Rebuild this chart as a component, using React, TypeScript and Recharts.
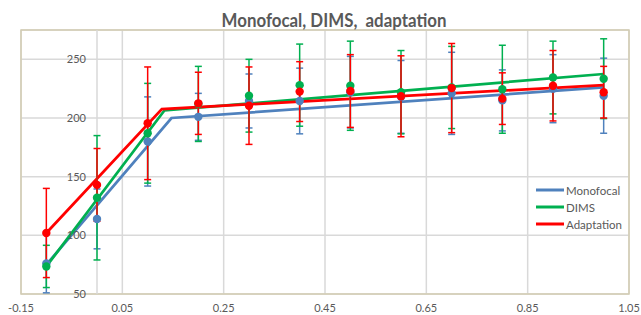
import React from 'react';
import {
  ComposedChart,
  Line,
  Scatter,
  ErrorBar,
  XAxis,
  YAxis,
  CartesianGrid,
  ReferenceLine,
  ReferenceDot,
  ReferenceArea,
  Legend,
} from 'recharts';

// ---- data ----
const xValues = [-0.1, 0, 0.1, 0.2, 0.3, 0.4, 0.5, 0.6, 0.7, 0.8, 0.9, 1.0];

const monoValues = [76, 114, 180, 201, 214.5, 214.5, 222, 218, 221, 215, 225, 219];
const monoErrors = [25, 25.5, 38, 20, 23, 28, 30.5, 31, 35, 26, 29, 32];

const dimsValues = [73.5, 132, 187, 212, 219, 228, 227.5, 222, 226, 224.5, 234.5, 233.5];
const dimsErrors = [18, 53, 42.5, 32, 31, 35, 38, 35.5, 35, 37.5, 31, 34];

const adaptValues = [102, 143, 195.5, 212.5, 210.5, 222.5, 223, 218.5, 225.5, 216.5, 227.5, 222];
const adaptErrors = [38, 31, 48, 26.5, 33, 25.5, 31, 34.5, 38, 22, 30, 22];

// piecewise fitted lines (start, breakpoint, end)
const monoLineX = [-0.1, 0.147, 1.0];
const monoLineY = [75, 200, 226];
const dimsLineX = [-0.1, 0.133, 1.0];
const dimsLineY = [73.5, 206.4, 237.5];
const adaptLineX = [-0.1, 0.128, 1.0];
const adaptLineY = [102, 207.6, 228];

const xTicks = [-0.15, 0.05, 0.25, 0.45, 0.65, 0.85, 1.05];
const yTicks = [50, 100, 150, 200, 250];

const seriesNames = ['Monofocal', 'DIMS', 'Adaptation'];
const title = 'Monofocal, DIMS,  adaptation';

// ---- styles ----
const BLUE = '#4F81BD';
const GREEN = '#00B050';
const RED = '#FF0000';
const TEXT = '#595959';
const GRID = '#D9D9D9';
const BORDER = '#D3CDB3';
const FONT = 'Lato, "Open Sans", sans-serif';

const toPoints = (ys: number[], errs: number[]) =>
  xValues.map((x, i) => ({ x, y: ys[i], err: errs[i] }));
const toLine = (xs: number[], ys: number[]) => xs.map((x, i) => ({ x, y: ys[i] }));

const monoPts = toPoints(monoValues, monoErrors);
const dimsPts = toPoints(dimsValues, dimsErrors);
const adaptPts = toPoints(adaptValues, adaptErrors);
const monoLine = toLine(monoLineX, monoLineY);
const dimsLine = toLine(dimsLineX, dimsLineY);
const adaptLine = toLine(adaptLineX, adaptLineY);

const dotShape = (color: string) => (props: any) => (
  <circle cx={props.cx} cy={props.cy} r={4.2} fill={color} />
);

const renderLegend = (props: any) => {
  const items = (props.payload || [])
    .filter((p: any) => p.type !== 'none' && seriesNames.indexOf(p.value) >= 0)
    .slice()
    .sort((a: any, b: any) => seriesNames.indexOf(a.value) - seriesNames.indexOf(b.value));
  return (
    <div style={{ fontFamily: FONT, fontSize: 11.5, color: TEXT }}>
      {items.map((p: any) => (
        <div key={p.value} style={{ display: 'flex', alignItems: 'center', height: 17 }}>
          <svg width={28} height={4} style={{ display: 'block' }}>
            <line x1={0} y1={2} x2={28} y2={2} stroke={p.color} strokeWidth={3} />
          </svg>
          <span style={{ marginLeft: 2, whiteSpace: 'nowrap' }}>{p.value}</span>
        </div>
      ))}
    </div>
  );
};

export default function App() {
  return (
    <div
      style={{
        position: 'absolute',
        left: 0,
        top: 0,
        width: 641,
        height: 315,
        background: '#ffffff',
        fontFamily: FONT,
      }}
    >
      <ComposedChart width={641} height={315} margin={{ top: 30, right: 12, left: 21, bottom: 0 }}>
        <CartesianGrid stroke={GRID} strokeWidth={1.5} />
        <ReferenceArea
          x1={-0.15}
          x2={1.05}
          y1={50}
          y2={275}
          fill="none"
          fillOpacity={0}
          stroke={BORDER}
          strokeWidth={1.5}
        />
        <ReferenceLine x={0} stroke={GRID} strokeWidth={1.5} />
        <XAxis
          type="number"
          dataKey="x"
          domain={[-0.15, 1.05]}
          ticks={xTicks}
          interval={0}
          allowDataOverflow
          tickFormatter={(v: number) => v.toFixed(2)}
          axisLine={false}
          tickLine={false}
          height={21}
          tickMargin={4}
          tick={{ fill: TEXT, fontSize: 11, fontFamily: FONT }}
        />
        <YAxis
          type="number"
          dataKey="y"
          domain={[50, 275]}
          ticks={yTicks}
          allowDataOverflow
          hide
        />
        {yTicks.map((v) => (
          <ReferenceDot
            key={v}
            x={0}
            y={v}
            r={0}
            fill="none"
            stroke="none"
            label={{ value: String(v), position: 'left', offset: 11, fill: TEXT, fontSize: 11, fontFamily: FONT }}
          />
        ))}
        <Line
          data={monoLine}
          dataKey="y"
          name={seriesNames[0]}
          type="linear"
          stroke={BLUE}
          strokeWidth={2.75}
          dot={false}
          legendType="plainline"
          isAnimationActive={false}
        />
        <Line
          data={dimsLine}
          dataKey="y"
          name={seriesNames[1]}
          type="linear"
          stroke={GREEN}
          strokeWidth={2.75}
          dot={false}
          legendType="plainline"
          isAnimationActive={false}
        />
        <Line
          data={adaptLine}
          dataKey="y"
          name={seriesNames[2]}
          type="linear"
          stroke={RED}
          strokeWidth={2.75}
          dot={false}
          legendType="plainline"
          isAnimationActive={false}
        />
        <Scatter
          data={monoPts}
          dataKey="y"
          name="mono-pts"
          fill={BLUE}
          legendType="none"
          shape={dotShape(BLUE)}
          isAnimationActive={false}
        >
          <ErrorBar dataKey="err" direction="y" width={3.5} stroke={BLUE} strokeWidth={1.5} isAnimationActive={false} />
        </Scatter>
        <Scatter
          data={dimsPts}
          dataKey="y"
          name="dims-pts"
          fill={GREEN}
          legendType="none"
          shape={dotShape(GREEN)}
          isAnimationActive={false}
        >
          <ErrorBar dataKey="err" direction="y" width={3.5} stroke={GREEN} strokeWidth={1.5} isAnimationActive={false} />
        </Scatter>
        <Scatter
          data={adaptPts}
          dataKey="y"
          name="adapt-pts"
          fill={RED}
          legendType="none"
          shape={dotShape(RED)}
          isAnimationActive={false}
        >
          <ErrorBar dataKey="err" direction="y" width={3.5} stroke={RED} strokeWidth={1.5} isAnimationActive={false} />
        </Scatter>
        <Legend
          layout="vertical"
          align="center"
          verticalAlign="middle"
          wrapperStyle={{ left: 536, top: 181.5, width: 100 }}
          content={renderLegend}
        />
      </ComposedChart>
      <svg
        width={641}
        height={30}
        style={{ position: 'absolute', left: 0, top: 0, pointerEvents: 'none' }}
      >
        <text
          x={334}
          y={26.7}
          textAnchor="middle"
          fill={TEXT}
          fontFamily={FONT}
          fontWeight={700}
          fontSize={19}
          textLength={225}
          lengthAdjust="spacingAndGlyphs"
          style={{ whiteSpace: 'pre' }}
        >
          {title}
        </text>
      </svg>
    </div>
  );
}
